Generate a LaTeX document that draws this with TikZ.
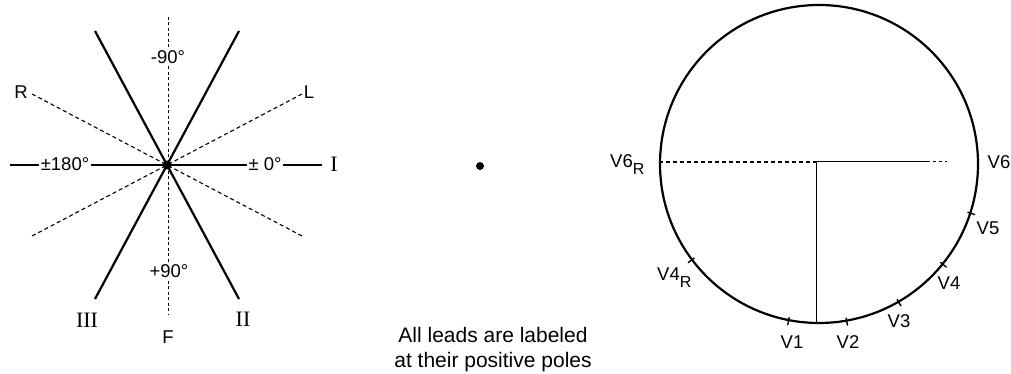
\documentclass[tikz,border=0pt]{standalone}
\usepackage{fontspec}
\setmainfont{Liberation Sans}
\newfontfamily\romanfont{Liberation Serif}

\begin{document}
\begin{tikzpicture}[x=1pt,y=1pt,
  lead/.style={line width=2.2pt},
  axis/.style={line width=1.1pt, dash pattern=on 4pt off 3pt},
  lbl/.style={font=\fontsize{18.5}{18.5}\selectfont, inner sep=1pt},
  num/.style={font=\romanfont\fontsize{22}{22}\selectfont, inner sep=0pt},
  deg/.style={lbl, fill=white, inner sep=2pt},
  marktick/.style={line width=1.4pt}]

\useasboundingbox (0,0) rectangle (1011,374);

% hexaxial reference system
\coordinate (top) at (168,357);
\coordinate (bot) at (168,59);
\coordinate (Rpos) at (32,280);
\coordinate (Rneg) at (302,138);
\coordinate (Lpos) at (302,280);
\coordinate (Lneg) at (32,138);
\coordinate (IIneg) at (95,343);
\coordinate (IIpos) at (239,75);
\coordinate (IIIneg) at (239,343);
\coordinate (IIIpos) at (95,75);
\coordinate (Ineg) at (10,209);
\coordinate (Ipos) at (322,209);

\draw[axis, line width=0.8pt, dash pattern=on 3pt off 2.5pt] (top)--(bot);
\draw[axis] (Rpos)--(Rneg);
\draw[axis] (Lpos)--(Lneg);
\draw[lead] (IIneg)--(IIpos);
\draw[lead] (IIIneg)--(IIIpos);
\draw[line width=1.8pt] (Ineg)--(Ipos);
\node[circle, fill, inner sep=0pt, minimum size=9pt] (O) at (167,209) {};

\node[deg] (m90) at (168,317) {-90°};
\node[deg] (p90) at (169,103) {+90°};
\node[deg] (p180) at (65,210) {±180°};
\node[deg] (p0) at (265,210) {± 0°};
\node[lbl] (labR) at (21,282) {R};
\node[lbl] (labL) at (309,282) {L};
\node[lbl] (labF) at (168,37) {F};
\node[num] (labI) at (334,210) {I};
\node[num] (labII) at (243,55) {II};
\node[num] (labIII) at (87,54) {III};

\node[circle, fill, inner sep=0pt, minimum size=8pt] (dot) at (480,208) {};

\node[align=center, font=\fontsize{21}{25}\selectfont] (note) at (493,24)
  {All leads are labeled\\at their positive poles};

% precordial leads
\node[circle, draw, line width=2.2pt, minimum size=318pt, inner sep=0pt] (torso) at (819,210) {};
\coordinate (C) at (816,212);
\coordinate (Cend) at (927,212);
\coordinate (Ctip) at (947,212);

\draw[axis] (C -| torso.west)--(C);
\draw[line width=1pt] (C)--(Cend);
\draw[line width=1pt, dash pattern=on 3pt off 3pt] (Cend)--(Ctip);
\draw[line width=1pt] (C)--(C |- torso.south);

\foreach \a in {-143,-101,-80,-60,-39,-18}
  \draw[marktick] ([shift={(\a:-4)}]torso.\a)--([shift={(\a:4)}]torso.\a);

\node[lbl] (V6) at (999,212) {V6};
\node[lbl] (V5) at (988,146) {V5};
\node[lbl] (V4) at (949,91) {V4};
\node[lbl] (V3) at (899,53) {V3};
\node[lbl] (V2) at (848,32) {V2};
\node[lbl] (V1) at (792,32) {V1};
\node[lbl, anchor=base west] (V4R) at (656,93) {V4\raisebox{-7pt}{\fontsize{16}{16}\selectfont R}};
\node[lbl, anchor=base west] (V6R) at (609,206) {V6\raisebox{-7pt}{\fontsize{16}{16}\selectfont R}};

\end{tikzpicture}
\end{document}
